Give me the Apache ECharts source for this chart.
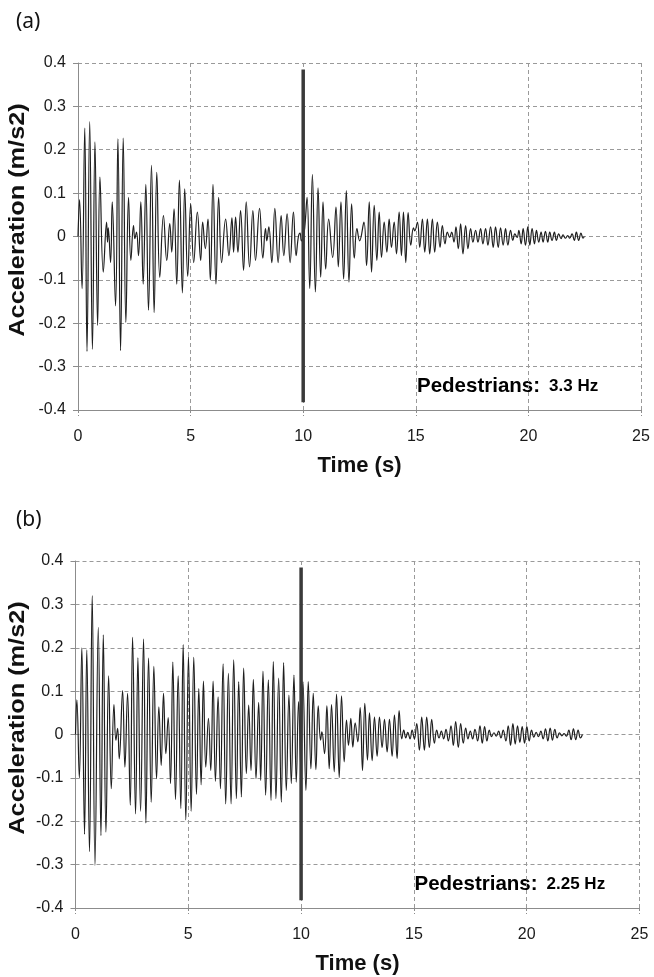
<!DOCTYPE html>
<html><head><meta charset="utf-8">
<script src="https://cdn.jsdelivr.net/npm/echarts@6/dist/echarts.min.js"></script>
<style>html,body{margin:0;padding:0;background:#fff}#c{width:654px;height:977px}</style>
</head><body><div id="c"></div>
<script>
// ---- Data (successive extremes of the acceleration trace) ----
const timeA = [0,0.07,0.18,0.3,0.4,0.52,0.64,0.753,0.871,0.975,1.122,1.27,1.31,1.344,1.447,1.52,1.668,1.772,1.89,2.008,2.126,2.244,2.347,2.465,2.524,2.598,2.687,2.79,2.894,3.012,3.13,3.263,3.381,3.499,3.632,3.794,3.942,4.075,4.163,4.266,4.385,4.503,4.635,4.739,4.872,5.005,5.137,5.3,5.447,5.536,5.654,5.772,5.876,5.994,6.127,6.245,6.377,6.555,6.702,6.835,6.909,6.998,7.101,7.219,7.352,7.47,7.618,7.765,7.883,8.061,8.208,8.326,8.385,8.474,8.607,8.74,8.887,9.02,9.138,9.286,9.419,9.566,9.684,9.788,9.862,9.92,10.0,10.068,10.172,10.29,10.408,10.541,10.659,10.777,10.88,10.998,11.131,11.308,11.456,11.559,11.677,11.795,11.914,12.032,12.15,12.268,12.386,12.504,12.696,12.814,12.932,13.035,13.153,13.271,13.374,13.478,13.596,13.714,13.817,13.92,14.039,14.142,14.26,14.363,14.452,14.555,14.659,14.777,14.895,14.954,15.072,15.175,15.293,15.397,15.515,15.618,15.736,15.84,15.958,16.076,16.179,16.297,16.4,16.504,16.593,16.696,16.784,16.888,16.991,17.094,17.212,17.316,17.434,17.537,17.655,17.759,17.877,17.98,18.098,18.202,18.32,18.438,18.541,18.659,18.763,18.88,18.984,19.088,19.206,19.309,19.398,19.501,19.575,19.678,19.767,19.87,19.973,20.062,20.165,20.269,20.357,20.46,20.564,20.652,20.756,20.859,20.948,21.051,21.154,21.243,21.346,21.45,21.538,21.641,21.745,21.833,21.937,22.04,22.129,22.232,22.335,22.424,22.483];
const accA = [0,0.085,-0.12,0.25,-0.265,0.265,-0.26,0.218,-0.205,0.137,-0.082,0.033,-0.013,0.02,-0.06,0.08,-0.16,0.225,-0.263,0.227,-0.198,0.09,-0.055,0.025,-0.005,0.01,-0.044,0.08,-0.11,0.12,-0.17,0.164,-0.175,0.148,-0.094,0.048,-0.055,0.03,-0.036,0.064,-0.11,0.13,-0.13,0.11,-0.092,0.075,-0.06,0.056,-0.055,0.033,-0.028,0.04,-0.1,0.12,-0.11,0.09,-0.06,0.04,-0.044,0.043,-0.036,0.045,-0.036,0.06,-0.078,0.08,-0.07,0.06,-0.055,0.065,-0.05,0.018,-0.01,0.022,-0.06,0.065,-0.06,0.048,-0.044,0.052,-0.06,0.056,-0.044,0.0,0.008,-0.01,0.0,0.02,0.09,-0.12,0.143,-0.128,0.112,-0.094,0.08,-0.075,0.04,-0.048,0.068,-0.07,0.08,-0.098,0.106,-0.105,0.075,-0.05,0.018,-0.01,0.033,-0.067,0.08,-0.082,0.072,-0.055,0.056,-0.048,0.033,-0.036,0.04,-0.025,0.033,-0.04,0.056,-0.044,0.056,-0.06,0.055,-0.02,0.02,0.013,0.033,-0.025,0.04,-0.036,0.04,-0.04,0.04,-0.036,0.033,-0.025,0.025,-0.017,0.01,-0.002,0.01,-0.013,0.022,-0.028,0.029,-0.04,0.025,-0.028,0.018,-0.013,0.014,-0.013,0.018,-0.017,0.018,-0.02,0.022,-0.025,0.022,-0.025,0.02,-0.02,0.018,-0.02,0.014,-0.009,0.006,-0.002,0.014,-0.017,0.018,-0.02,0.022,-0.02,0.018,-0.017,0.014,-0.013,0.01,-0.013,0.012,-0.013,0.01,-0.009,0.01,-0.009,0.006,-0.005,0.004,-0.004,0.002,-0.004,0.006,-0.009,0.01,-0.009,0.008,-0.004,0.0];
const timeB = [0,0.06,0.17,0.28,0.4,0.5,0.62,0.74,0.863,1.01,1.128,1.232,1.35,1.468,1.586,1.704,1.792,1.866,1.94,2.087,2.19,2.308,2.426,2.53,2.662,2.766,2.884,3.016,3.12,3.238,3.356,3.474,3.592,3.695,3.798,3.901,4.005,4.108,4.211,4.314,4.432,4.55,4.668,4.772,4.89,5.007,5.126,5.243,5.362,5.465,5.568,5.671,5.775,5.893,5.996,6.099,6.202,6.32,6.424,6.541,6.659,6.777,6.895,7.013,7.131,7.234,7.352,7.455,7.573,7.677,7.78,7.883,8.001,8.119,8.208,8.311,8.429,8.547,8.665,8.768,8.886,9.004,9.122,9.225,9.343,9.461,9.565,9.683,9.786,9.889,9.99,10.081,10.214,10.317,10.435,10.538,10.656,10.759,10.863,10.921,11.04,11.143,11.246,11.349,11.467,11.571,11.689,11.792,11.91,12.013,12.101,12.205,12.293,12.396,12.514,12.618,12.721,12.824,12.942,13.031,13.149,13.252,13.37,13.474,13.592,13.695,13.813,13.916,14.034,14.137,14.255,14.344,14.462,14.55,14.639,14.727,14.831,14.919,15.022,15.126,15.244,15.347,15.465,15.568,15.686,15.789,15.907,16.01,16.114,16.217,16.32,16.424,16.527,16.645,16.748,16.851,16.969,17.073,17.19,17.294,17.397,17.5,17.604,17.707,17.825,17.928,18.031,18.134,18.238,18.341,18.444,18.547,18.651,18.754,18.857,18.96,19.078,19.181,19.284,19.388,19.491,19.594,19.697,19.801,19.904,20.007,20.11,20.214,20.317,20.42,20.523,20.627,20.73,20.833,20.937,21.04,21.143,21.246,21.35,21.453,21.556,21.659,21.762,21.866,21.969,22.072,22.175,22.278,22.382,22.47];
const accB = [0,0.08,-0.1,0.2,-0.23,0.195,-0.27,0.32,-0.302,0.247,-0.233,0.23,-0.225,0.135,-0.125,0.069,-0.013,0.014,-0.056,0.101,-0.075,0.095,-0.163,0.224,-0.183,0.177,-0.177,0.22,-0.204,0.176,-0.156,0.157,-0.102,0.064,-0.071,0.095,-0.044,0.039,-0.113,0.167,-0.15,0.135,-0.171,0.207,-0.197,0.18,-0.177,0.178,-0.138,0.106,-0.116,0.123,-0.075,0.037,-0.083,0.123,-0.108,0.087,-0.125,0.163,-0.16,0.141,-0.16,0.172,-0.148,0.122,-0.144,0.153,-0.09,0.068,-0.083,0.127,-0.102,0.074,-0.106,0.146,-0.14,0.126,-0.152,0.168,-0.148,0.13,-0.156,0.166,-0.129,0.091,-0.113,0.137,-0.11,0.076,-0.08,0.122,-0.129,0.122,-0.079,0.095,-0.081,0.066,-0.013,0.006,-0.044,0.066,-0.079,0.069,-0.086,0.093,-0.099,0.089,-0.063,0.033,-0.025,0.037,-0.029,0.027,-0.017,0.062,-0.083,0.072,-0.059,0.05,-0.06,0.04,-0.05,0.04,-0.03,0.035,-0.04,0.035,-0.05,0.045,-0.055,0.055,-0.01,0.01,-0.008,0.005,-0.01,0.01,-0.01,0.025,-0.036,0.04,-0.036,0.04,-0.03,0.035,-0.02,0.01,-0.008,0.008,-0.01,0.012,-0.015,0.02,-0.025,0.03,-0.03,0.025,-0.02,0.015,-0.01,0.008,-0.01,0.012,-0.015,0.02,-0.02,0.018,-0.015,0.01,-0.005,0.004,-0.004,0.008,-0.008,0.01,-0.015,0.02,-0.025,0.025,-0.022,0.02,-0.018,0.018,-0.02,0.018,-0.015,0.01,-0.006,0.005,-0.005,0.008,-0.01,0.013,-0.015,0.015,-0.013,0.012,-0.008,0.004,-0.003,0.002,-0.004,0.01,-0.012,0.013,-0.012,0.01,-0.008,0.0];
// impulse marker at t = 10 s (time, acceleration)
const spikeTime = [10, 10];
const spikeA = [0.385, -0.382];
const spikeB = [0.385, -0.382];
const xTicks = [0, 5, 10, 15, 20, 25];
const yTicks = [-0.4, -0.3, -0.2, -0.1, 0, 0.1, 0.2, 0.3, 0.4];
const panelLabels = ['(a)', '(b)'];
const freqLabels = ['3.3 Hz', '2.25 Hz'];

const pairs = (t, v) => t.map((x, i) => [x, v[i]]);
const chart = echarts.init(document.getElementById('c'), null, {renderer: 'canvas'});
const FONT = '"Liberation Sans", Arial, sans-serif';
const grids = [
  {left: 78, top: 63, width: 563, height: 347},
  {left: 75.5, top: 561, width: 564, height: 347}
];
function xAx(i) {
  return {
    type: 'value', gridIndex: i, min: xTicks[0], max: xTicks[xTicks.length - 1], interval: 5,
    axisLine: {show: true, onZero: false, lineStyle: {color: '#8c8c8c', width: 1}},
    axisTick: {show: true, length: 6, lineStyle: {color: '#8c8c8c', type: [3, 2]}},
    axisLabel: {color: '#1a1a1a', fontSize: 16, fontFamily: FONT, margin: 19},
    splitLine: {show: true, lineStyle: {color: '#9a9a9a', type: [4, 3], width: 1}}
  };
}
function yAx(i) {
  return {
    type: 'value', gridIndex: i, min: yTicks[0], max: yTicks[yTicks.length - 1], interval: 0.1,
    axisLine: {show: true, onZero: false, lineStyle: {color: '#8c8c8c', width: 1}},
    axisTick: {show: true, length: 5, lineStyle: {color: '#8c8c8c'}},
    axisLabel: {color: '#1a1a1a', fontSize: 16, fontFamily: FONT, margin: 12,
      formatter: v => { const r = Math.round(v * 10) / 10; return r === 0 ? '0' : String(r); }},
    splitLine: {show: true, lineStyle: {color: '#9a9a9a', type: [4, 3], width: 1}}
  };
}
const graphics = [];
[0, 1].forEach(i => {
  const g = grids[i];
  graphics.push({type: 'text', x: 16, y: g.top - 41, style: {text: panelLabels[i], fill: '#111', font: '21px "Noto Sans", "Open Sans", sans-serif', textVerticalAlign: 'middle'}});
  graphics.push({type: 'text', x: 17.5, y: g.top + 157, rotation: Math.PI / 2, scaleX: 1.15,
    style: {text: 'Acceleration (m/s2)', fill: '#111', font: 'bold 22px ' + FONT, textAlign: 'center', textVerticalAlign: 'middle'}});
  graphics.push({type: 'text', x: g.left + g.width / 2, y: g.top + g.height + 56,
    style: {text: 'Time (s)', fill: '#111', font: 'bold 22px ' + FONT, textAlign: 'center', textVerticalAlign: 'middle'}});
  graphics.push({type: 'text', x: g.left + 339, y: g.top + 323,
    style: {text: '{a|Pedestrians:}{b|' + freqLabels[i] + '}', textVerticalAlign: 'middle',
      rich: {a: {fontSize: 20.5, fontWeight: 'bold', fontFamily: FONT, color: '#111'},
             b: {fontSize: 17, fontWeight: 'bold', fontFamily: FONT, color: '#111', padding: [0, 0, 0, 9]}}}});
});
chart.setOption({
  animation: false,
  backgroundColor: '#fff',
  grid: grids,
  xAxis: [xAx(0), xAx(1)],
  yAxis: [yAx(0), yAx(1)],
  series: [
    {type: 'line', xAxisIndex: 0, yAxisIndex: 0, data: pairs(timeA, accA), showSymbol: false, smooth: 0.45, lineStyle: {color: '#1e1e1e', width: 1.2}},
    {type: 'line', xAxisIndex: 0, yAxisIndex: 0, data: pairs(spikeTime, spikeA), showSymbol: false, lineStyle: {color: '#3a3a3a', width: 3.5}},
    {type: 'line', xAxisIndex: 1, yAxisIndex: 1, data: pairs(timeB, accB), showSymbol: false, smooth: 0.45, lineStyle: {color: '#1e1e1e', width: 1.2}},
    {type: 'line', xAxisIndex: 1, yAxisIndex: 1, data: pairs(spikeTime, spikeB), showSymbol: false, lineStyle: {color: '#3a3a3a', width: 3.5}}
  ],
  graphic: graphics
});
</script></body></html>
